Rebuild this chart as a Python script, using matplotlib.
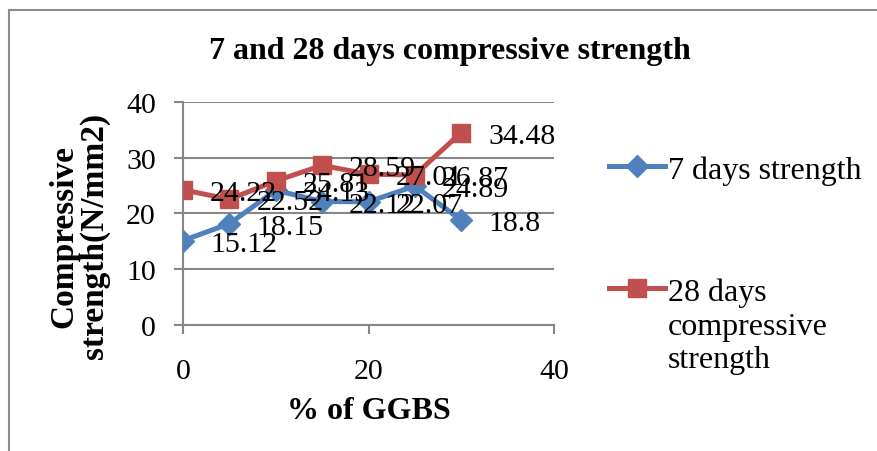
import matplotlib
matplotlib.use("Agg")
import matplotlib.pyplot as plt
from matplotlib.patches import Rectangle

plt.rcParams['font.family'] = ['Liberation Serif', 'DejaVu Serif']

# % of GGBS replacement
ggbs = [0, 5, 10, 15, 20, 25, 30]
strength_7 = [15.12, 18.15, 24.13, 22.12, 22.07, 24.89, 18.8]
strength_28 = [24.22, 22.52, 25.81, 28.59, 27.01, 26.87, 34.48]
series_names = ['7 days strength', '28 days compressive strength']

BLUE = '#4F81BD'
RED = '#C0504D'
GRID = '#878787'
W, H = 877, 452

fig = plt.figure(figsize=(W / 100, H / 100), dpi=100)
ax = fig.add_axes([183 / W, 1 - 326 / H, (554 - 183) / W, (326 - 102.7) / H])

# outer chart border (runs off the right and bottom edges)
fig.patches.append(Rectangle((8.5 / W, -0.1), 2, 1 - 11 / H + 0.1,
                             transform=fig.transFigure, fill=False,
                             edgecolor='#8c8c8c', lw=1.5))

l7, = ax.plot(ggbs, strength_7, color=BLUE, lw=3.6, marker='D', ms=11, zorder=3)
l28, = ax.plot(ggbs, strength_28, color=RED, lw=3.6, marker='s', ms=13, zorder=3)

for xs, ys in [(ggbs, strength_7), (ggbs, strength_28)]:
    for x, y in zip(xs, ys):
        ax.annotate(f"{y:g}", (x, y), xytext=(27, -3), textcoords='offset pixels',
                    ha='left', va='center', fontsize=21.5, zorder=4)

ax.set_xlim(0, 40)
ax.set_ylim(0, 40)
ax.set_xticks([0, 20, 40])
ax.set_yticks([0, 10, 20, 30, 40])
ax.grid(axis='y', color=GRID, lw=1.5)
ax.set_axisbelow(True)
for s in ['top', 'right']:
    ax.spines[s].set_visible(False)
for s in ['left', 'bottom']:
    ax.spines[s].set_color(GRID)
    ax.spines[s].set_linewidth(1.5)
ax.tick_params(axis='both', colors=GRID, length=6.5, width=1.5, labelsize=21.5,
               labelcolor='black')
ax.tick_params(axis='x', pad=17)
ax.tick_params(axis='y', pad=13)

ax.set_xlabel('% of GGBS', fontsize=23, fontweight='bold', labelpad=9)
fig.text(79 / W, 1 - 236 / H, 'Compressive\nstrength(N/mm2)', rotation=90,
         ha='center', va='center', fontsize=24, fontweight='bold',
         linespacing=0.98)

fig.text(450 / W, 1 - 51 / H, '7 and 28 days compressive strength',
         ha='center', va='center', fontsize=23, fontweight='bold')

# Excel-style legend: marker sits on the first line of the wrapped label
words = series_names[1].split(' ')
leg = ax.legend([l7, l28], [series_names[0], ' '.join(words[:2])],
                loc='upper left', bbox_to_anchor=(609 / W, 1 - 156 / H),
                bbox_transform=fig.transFigure, frameon=False, fontsize=23,
                handlelength=1.75, handletextpad=0.1, labelspacing=2.9,
                borderpad=0, borderaxespad=0)
fig.text(668 / W, 1 - 313 / H, '\n'.join(words[2:]), ha='left', va='top',
         fontsize=23, linespacing=1.2, transform=fig.transFigure)

fig.savefig('out.png', dpi=100)
